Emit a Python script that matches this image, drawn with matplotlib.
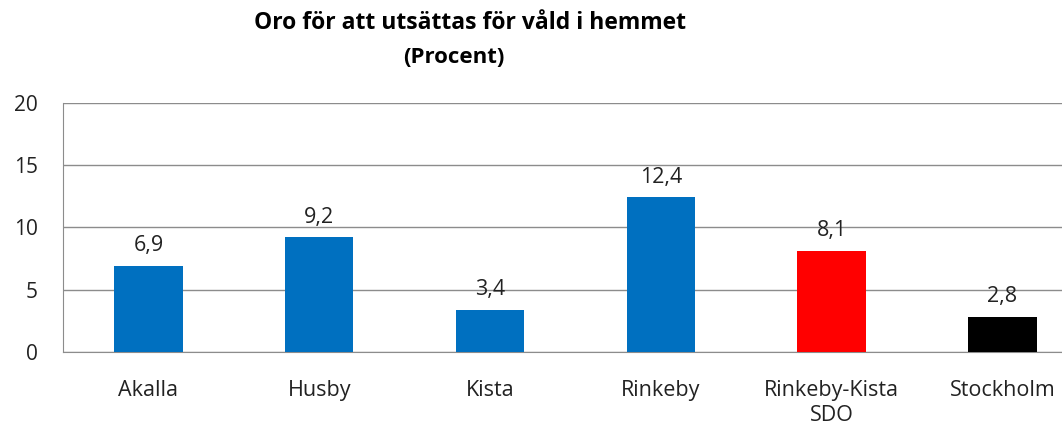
import matplotlib.pyplot as plt

categories = ['Akalla', 'Husby', 'Kista', 'Rinkeby', 'Rinkeby-Kista\nSDO', 'Stockholm']
values = [6.9, 9.2, 3.4, 12.4, 8.1, 2.8]
labels = ['6,9', '9,2', '3,4', '12,4', '8,1', '2,8']
colors = ['#0070C0', '#0070C0', '#0070C0', '#0070C0', '#FF0000', '#000000']
yticks = [0, 5, 10, 15, 20]

plt.rcParams['font.family'] = ['Open Sans', 'DejaVu Sans']

fig = plt.figure(figsize=(10.62, 4.25), dpi=100)
ax = fig.add_axes([0.0593, 0.172, 0.965, 0.586])

x = range(len(categories))
bars = ax.bar(x, values, width=0.4, color=colors, zorder=3)
for b, lab in zip(bars, labels):
    ax.annotate(lab, (b.get_x() + b.get_width() / 2, b.get_height()),
                xytext=(0, 7), textcoords='offset points',
                ha='center', va='bottom', fontsize=15.5, color='#222222')

ax.set_xlim(-0.5, 5.5)
ax.set_ylim(0, 20)
ax.set_yticks(yticks)
ax.set_yticklabels([str(t) for t in yticks], fontsize=15, color='#222222')
ax.set_xticks(list(x))
ax.set_xticklabels(categories, fontsize=15.5, color='#222222', linespacing=1.25)
ax.tick_params(axis='both', length=0)
ax.tick_params(axis='y', pad=18)
ax.tick_params(axis='x', pad=20)

ax.yaxis.grid(True, color='#8c8c8c', lw=1, zorder=0)
for s in ['top', 'right']:
    ax.spines[s].set_visible(False)
ax.spines['left'].set_color('#8c8c8c')
ax.spines['bottom'].set_color('#8c8c8c')

fig.text(0.443, 0.945, 'Oro för att utsättas för våld i hemmet', ha='center', va='center',
         fontsize=16.5, fontweight='bold')
fig.text(0.427, 0.865, '(Procent)', ha='center', va='center',
         fontsize=16, fontweight='bold')

fig.savefig('out.png', dpi=100)
